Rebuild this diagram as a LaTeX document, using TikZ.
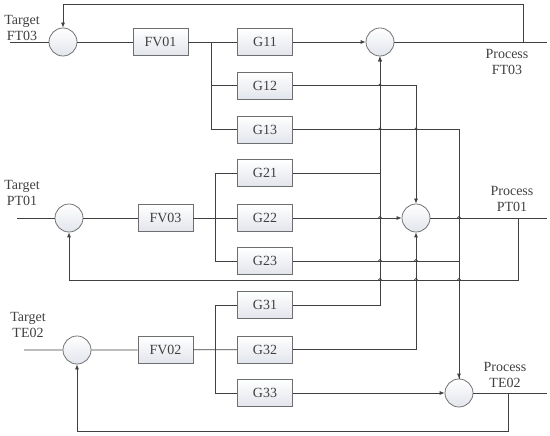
\documentclass[tikz,border=0pt]{standalone}
\usepackage{fontspec}
\setmainfont{Liberation Serif}
\usepackage{tikz}
\usetikzlibrary{positioning,arrows.meta}
\usepackage{xcolor}

\definecolor{wire}{HTML}{404040}
\definecolor{rim}{HTML}{6E6E6E}
\definecolor{shade}{HTML}{E2E5EC}

\begin{document}
\begin{tikzpicture}[
x=1pt,y=-1pt,
line width=0.75pt,
color=wire,
arr/.style={-{Latex[length=5pt,width=4pt]}},
sum/.style={
circle,
minimum size=28pt,
inner sep=0pt,
draw=rim,
top color=white,
bottom color=shade
},
block/.style={
rectangle,
minimum width=55pt,
minimum height=27pt,
inner sep=0pt,
draw=rim,
top color=white,
bottom color=shade,
font=\fontsize{14}{16}\selectfont
},
tag/.style={
align=center,
inner sep=0pt,
font=\fontsize{14}{16}\selectfont
}
]

\useasboundingbox (0,0) rectangle (550,436);

% loop FT03
\node[sum] (s1) at (63,42) {};
\node[block] (fv1) at (160.5,42) {FV01};
\node[sum] (o1) at (380,42) {};
\node[tag] (t1) at (22,28) {Target\\FT03};
\node[tag] (p1) at (507,62) {Process\\FT03};

% loop PT01
\node[sum] (s2) at (69,218) {};
\node[block] (fv3) at (165.5,218) {FV03};
\node[sum] (o2) at (416,218) {};
\node[tag] (t2) at (22,193) {Target\\PT01};
\node[tag] (p2) at (512,199) {Process\\PT01};

% loop TE02
\node[sum] (s3) at (77,350) {};
\node[block] (fv2) at (165.5,350) {FV02};
\node[sum] (o3) at (459,393) {};
\node[tag] (t3) at (28,325) {Target\\TE02};
\node[tag] (p3) at (505,375) {Process\\TE02};

% G blocks
\foreach \i/\y in {11/42,12/85.5,13/129.5,21/173,22/218,23/261,31/305,32/349.5,33/393}
\node[block] (g\i) at (265,\y) {G\i};

\coordinate (in1) at (10,42);
\coordinate (in2) at (17,218);
\coordinate (in3) at (24,350);
\coordinate (out1) at (547,42);
\coordinate (out2) at (547,218);
\coordinate (out3) at (547,393);
\coordinate (tap1) at (523,42);
\coordinate (tap2) at (518,218);
\coordinate (tap3) at (508,393);
\coordinate (fb1) at (63,4);
\coordinate (fb2) at (69,280);
\coordinate (fb3) at (77,431);
\coordinate (sp1) at (211,42);
\coordinate (sp2) at (215,218);
\coordinate (sp3) at (215,350);

% forward paths
\draw (in1) -- (s1) -- (fv1) -- (g11);
\draw (in2) -- (s2) -- (fv3) -- (g22);
\draw (in3) -- (s3) -- (fv2) -- (g32);
\draw (sp1) |- (g12);
\draw (sp1) |- (g13);
\draw (sp2) |- (g21);
\draw (sp2) |- (g23);
\draw (sp3) |- (g31);
\draw (sp3) |- (g33);

% to the sums
\draw[arr] (g11) -- (o1);
\draw[arr] (g21.east) -| (o1.south);
\draw[arr] (g31.east) -| (o1.south);
\draw[arr] (g12.east) -| (o2.north);
\draw[arr] (g22) -- (o2);
\draw[arr] (g32.east) -| (o2.south);
\draw[arr] (g13.east) -| (o3.north);
\draw (g23.east) -| (o3.north);
\draw[arr] (g33) -- (o3);

% outputs and feedback
\draw (o1) -- (out1);
\draw (o2) -- (out2);
\draw (o3) -- (out3);
\draw[arr] (tap1) |- (fb1) -- (s1);
\draw[arr] (tap2) |- (fb2) -- (s2);
\draw[arr] (tap3) |- (fb3) -- (s3);

% hops
\foreach \x/\y in {380/85.5,380/129.5,380/218,380/261,380/280,
416/129.5,416/261,416/280,459/218,459/280}
\draw (\x-1.6,\y) arc[start angle=180,end angle=0,radius=1.6pt];

\end{tikzpicture}
\end{document}
